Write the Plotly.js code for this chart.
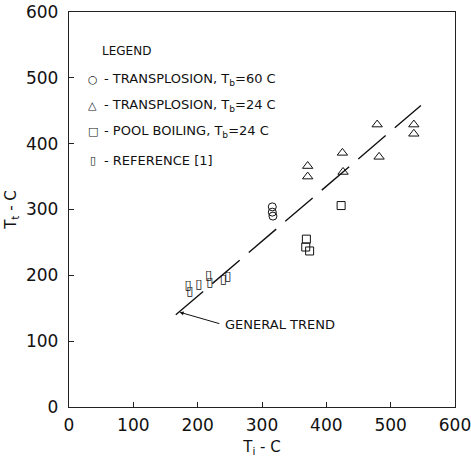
<!DOCTYPE html>
<html>
<head>
<meta charset="utf-8">
<script src="https://cdn.plot.ly/plotly-3.0.1.min.js"></script>
<style>html,body{margin:0;padding:0;background:#fff;}#chart{width:471px;height:457px;}</style>
</head>
<body>
<div id="chart"></div>
<script>
// Transplosion, Tb = 60 C (circles)
const trans60X = [316, 316, 317];
const trans60Y = [304, 296, 290];
// Transplosion, Tb = 24 C (triangles)
const trans24X = [371, 371, 425, 426, 479, 482, 536, 536];
const trans24Y = [366, 350, 386, 357, 429, 380, 429, 415];
// Pool boiling, Tb = 24 C (squares)
const poolX = [423, 369, 368, 374];
const poolY = [306, 255, 243, 237];
// Reference [1] (narrow rectangles)
const refX = [185, 188, 202, 217, 219, 240, 247];
const refY = [184, 175, 186, 199, 189, 194, 198];
// General trend line
const trendX = [166, 547];
const trendY = [140, 458];

const tickVals = [0, 100, 200, 300, 400, 500, 600];
const tickText = ['0', '100', '200', '300', '400', '500', '600'];

const legendSymbols = ['○', '△', '□', '▯'];
const legendLabels = [
  '- TRANSPLOSION, T<sub>b</sub>=60 C',
  '- TRANSPLOSION, T<sub>b</sub>=24 C',
  '- POOL BOILING, T<sub>b</sub>=24 C',
  '- REFERENCE [1]'
];
const legendRowY = [497, 458, 419, 375];

const FONT = 'DejaVu Sans, sans-serif';
const INK = '#111';
const mk = (sym, s) => ({symbol: sym, size: s, color: INK, line: {color: INK, width: 1}});

const traces = [
  {x: trendX, y: trendY, mode: 'lines', line: {color: INK, width: 1.4, dash: '36px,12px'}, hoverinfo: 'skip'},
  {x: trans60X, y: trans60Y, mode: 'markers', marker: mk('circle-open', 8)},
  {x: trans24X, y: trans24Y, mode: 'markers', marker: mk('triangle-up-open', 9)},
  {x: poolX, y: poolY, mode: 'markers', marker: mk('square-open', 8)},
  {x: refX, y: refY, mode: 'text', text: refX.map(() => '▯'), textposition: 'middle center',
   textfont: {family: FONT, size: 13, color: INK}}
];

const annotations = [
  {x: 48, y: 541, xref: 'x', yref: 'y', text: 'LEGEND', showarrow: false, xanchor: 'left', yanchor: 'middle',
   font: {family: FONT, size: 12, color: INK}},
  {x: 172, y: 144, xref: 'x', yref: 'y', text: '', showarrow: true, ax: 236, ay: 126,
   axref: 'x', ayref: 'y', arrowhead: 2, arrowsize: 0.8, arrowwidth: 1, arrowcolor: INK},
  {x: 239, y: 125, xref: 'x', yref: 'y', text: 'GENERAL TREND', showarrow: false,
   xanchor: 'left', yanchor: 'middle', font: {family: FONT, size: 13, color: INK}}
];

legendLabels.forEach((lab, i) => {
  annotations.push({x: 37, y: legendRowY[i], xref: 'x', yref: 'y', text: legendSymbols[i], showarrow: false,
    xanchor: 'center', yanchor: 'middle', font: {family: FONT, size: 11, color: INK}});
  annotations.push({x: 51, y: legendRowY[i], xref: 'x', yref: 'y', text: lab, showarrow: false,
    xanchor: 'left', yanchor: 'middle', font: {family: FONT, size: 13, color: INK}});
});

const axisCommon = {
  range: [0, 600], tickvals: tickVals, ticktext: tickText, ticks: 'inside', ticklen: 5, tickwidth: 1,
  tickcolor: '#222', showline: true, linecolor: '#222', linewidth: 1.2, mirror: true, showgrid: false,
  zeroline: false, tickfont: {family: FONT, size: 17, color: INK}, ticklabeloverflow: 'allow'
};

const layout = {
  width: 471, height: 457,
  margin: {l: 69, r: 16, t: 12, b: 50},
  paper_bgcolor: '#fff', plot_bgcolor: '#fff',
  showlegend: false,
  font: {family: FONT, color: INK},
  xaxis: Object.assign({}, axisCommon, {ticklabelstandoff: 2,
    title: {text: 'T<sub>i</sub> - C', font: {family: FONT, size: 15}, standoff: 10}}),
  yaxis: Object.assign({}, axisCommon, {ticklabelstandoff: 6,
    title: {text: 'T<sub>t</sub> - C', font: {family: FONT, size: 15}, standoff: 5}}),
  annotations: annotations
};

Plotly.newPlot('chart', traces, layout, {displayModeBar: false, staticPlot: true});
</script>
</body>
</html>
